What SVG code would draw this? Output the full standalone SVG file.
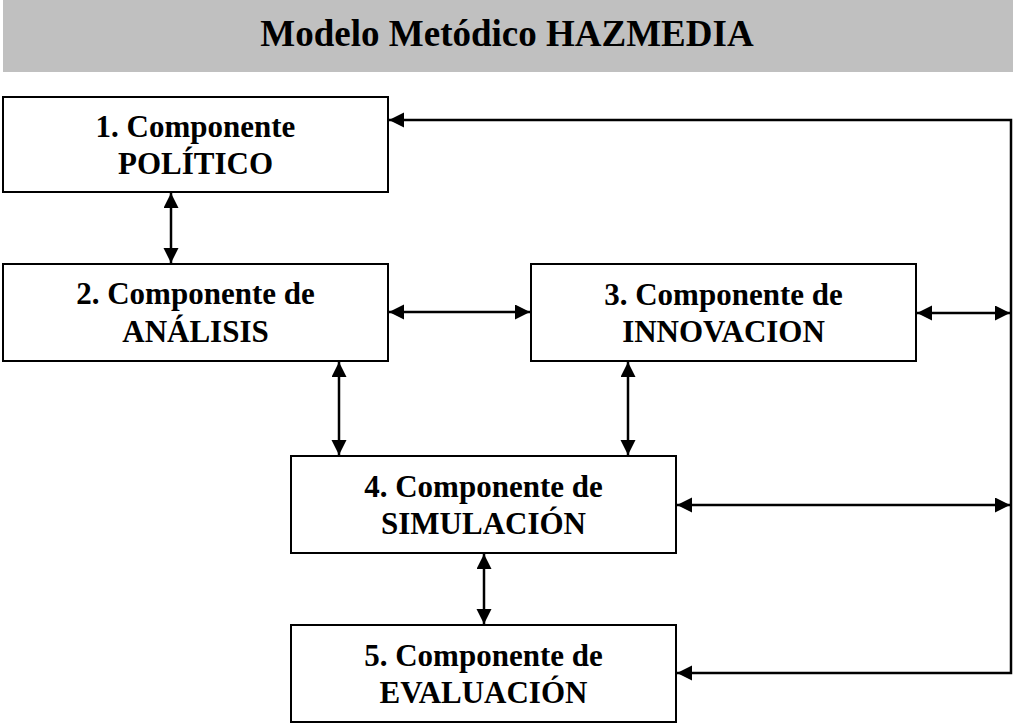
<svg xmlns="http://www.w3.org/2000/svg" width="1013" height="725" viewBox="0 0 1013 725">
<style>
.box{fill:#fff;stroke:#000;stroke-width:2}
.t{font-family:"Liberation Serif","Times New Roman",serif;font-weight:bold;font-size:31px;text-anchor:middle;fill:#000}
.title{font-family:"Liberation Serif","Times New Roman",serif;font-weight:bold;font-size:37px;text-anchor:middle;fill:#000}
.c{fill:none;stroke:#000;stroke-width:2.5}
.bi{marker-start:url(#ah);marker-end:url(#ah)}
</style>
<defs>
<marker id="ah" markerUnits="userSpaceOnUse" markerWidth="16" markerHeight="16" refX="15" refY="7.5" orient="auto-start-reverse">
<path d="M0,0 L15,7.5 L0,15 z" fill="#000"/>
</marker>
</defs>
<g id="title">
<rect x="3" y="0" width="1010" height="72" fill="#c0c0c0"/>
<text class="title" x="507" y="46">Modelo Metódico HAZMEDIA</text>
</g>
<g id="connectors">
<line class="c bi" x1="171" y1="193" x2="171" y2="263"/>
<line class="c bi" x1="389" y1="312" x2="530" y2="312"/>
<line class="c bi" x1="339" y1="362" x2="339" y2="455"/>
<line class="c bi" x1="628" y1="362" x2="628" y2="455"/>
<line class="c bi" x1="917" y1="313" x2="1010" y2="313"/>
<line class="c bi" x1="677" y1="505" x2="1010" y2="505"/>
<line class="c bi" x1="484" y1="554" x2="484" y2="624"/>
<polyline class="c" points="389,120 1011,120 1011,673 677,673" style="marker-start:url(#ah);marker-end:url(#ah)"/>
</g>
<g id="node1">
<rect class="box" x="3" y="97" width="385" height="95"/>
<text class="t" x="195.5" y="137">1. Componente</text>
<text class="t" x="195.5" y="174">POLÍTICO</text>
</g>
<g id="node2">
<rect class="box" x="3" y="264" width="385" height="97"/>
<text class="t" x="195.5" y="304">2. Componente de</text>
<text class="t" x="195.5" y="342">ANÁLISIS</text>
</g>
<g id="node3">
<rect class="box" x="531" y="264" width="385" height="97"/>
<text class="t" x="723.5" y="305">3. Componente de</text>
<text class="t" x="723.5" y="342">INNOVACION</text>
</g>
<g id="node4">
<rect class="box" x="291" y="456" width="385" height="97"/>
<text class="t" x="483.5" y="497">4. Componente de</text>
<text class="t" x="483.5" y="534">SIMULACIÓN</text>
</g>
<g id="node5">
<rect class="box" x="291" y="625" width="385" height="97"/>
<text class="t" x="483.5" y="666">5. Componente de</text>
<text class="t" x="483.5" y="703">EVALUACIÓN</text>
</g>
</svg>
